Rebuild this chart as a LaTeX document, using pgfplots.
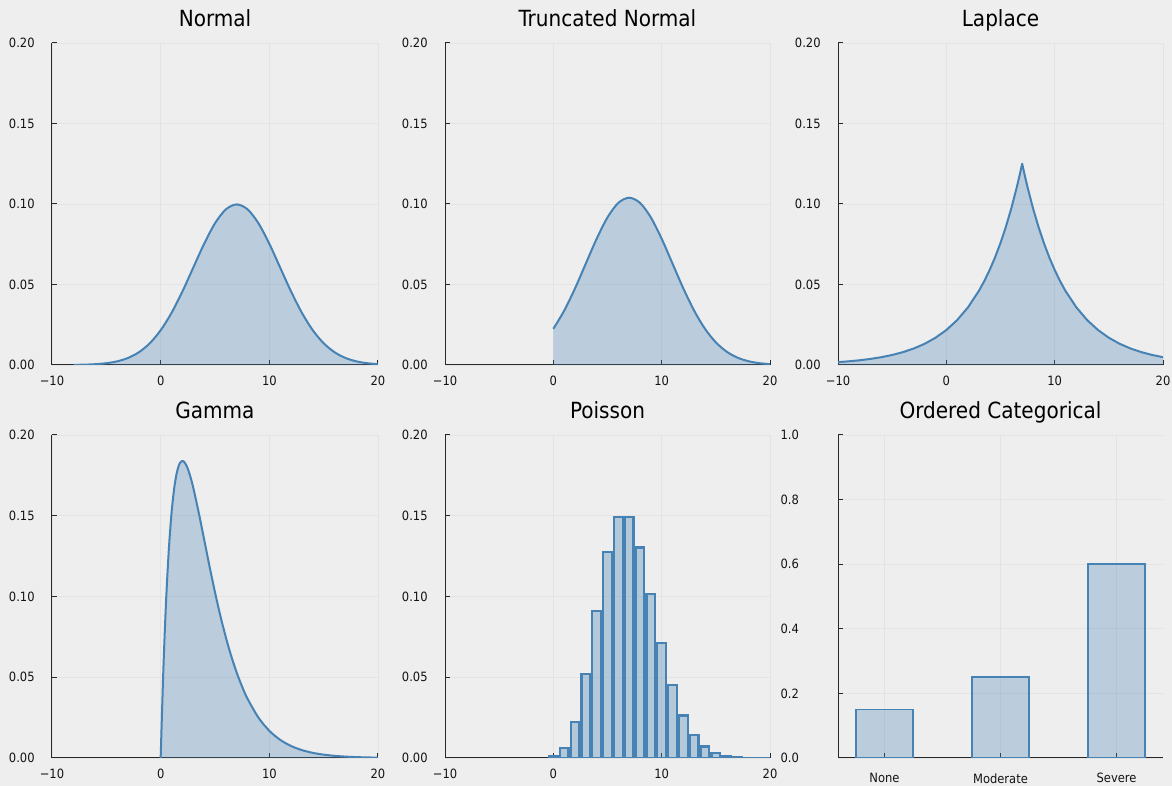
\documentclass[border=0pt]{standalone}
\usepackage{fontspec}
\setmainfont{DejaVu Sans Condensed}
\usepackage{pgfplots}
\pgfplotsset{compat=1.18}
\definecolor{bg}{RGB}{238,238,238}
\definecolor{lc}{RGB}{70,130,180}
\definecolor{axc}{RGB}{40,40,40}
\definecolor{gridc}{RGB}{227,227,227}
\definecolor{labc}{RGB}{20,20,20}
\newcommand{\tickfont}{\fontsize{9.6}{11}\selectfont}
\newcommand{\titlefont}{\fontsize{16.7}{19}\selectfont}
\pgfplotsset{
  base/.style={
    scale only axis, anchor=south west,
    axis lines=left,
    axis line style={-, draw=axc, line width=0.75pt},
    tick align=inside, major tick length=3.5pt,
    tick style={draw=axc, line width=0.75pt},
    grid=major, major grid style={draw=gridc, line width=0.6pt},
    ticklabel style={font=\tickfont, text=labc},
    xticklabel style={yshift=-5pt},
    yticklabel style={xshift=-9.5pt},
    title style={font=\titlefont, text=black, at={(0.5,1)}, anchor=base, yshift=6.5pt},
  },
  dist/.style={
    base,
    xmin=-10, xmax=20, ymin=0, ymax=0.2,
    xtick={-10,0,10,20}, xticklabels={−10,0,10,20},
    ytick={0,0.05,0.1,0.15,0.2}, yticklabels={0.00,0.05,0.10,0.15,0.20},
  },
  curve/.style={draw=lc, line width=1.5pt, line join=round},
  area/.style={draw=none, fill=lc, fill opacity=0.3},
}
\begin{document}
\begin{tikzpicture}
\path[use as bounding box, fill=bg] (0,0) rectangle (879pt,589.5pt);

% Normal
\begin{axis}[dist, at={(39pt,315.75pt)}, width=244.5pt, height=241.5pt, title={Normal}]
\addplot[area, smooth] coordinates {
(-8,0.000088) (-7,0.000218) (-6,0.000507) (-5,0.001108) (-4,0.002273) (-3,0.004382)
(-2,0.007935) (-1,0.013498) (0,0.021569) (1,0.032380) (2,0.045662) (3,0.060493)
(4,0.075284) (5,0.088017) (6,0.096668) (7,0.099736) (8,0.096668) (9,0.088017)
(10,0.075284) (11,0.060493) (12,0.045662) (13,0.032380) (14,0.021569) (15,0.013498)
(16,0.007935) (17,0.004382) (18,0.002273) (19,0.001108) (20,0.000507)} \closedcycle;
\addplot[curve, smooth] coordinates {
(-8,0.000088) (-7,0.000218) (-6,0.000507) (-5,0.001108) (-4,0.002273) (-3,0.004382)
(-2,0.007935) (-1,0.013498) (0,0.021569) (1,0.032380) (2,0.045662) (3,0.060493)
(4,0.075284) (5,0.088017) (6,0.096668) (7,0.099736) (8,0.096668) (9,0.088017)
(10,0.075284) (11,0.060493) (12,0.045662) (13,0.032380) (14,0.021569) (15,0.013498)
(16,0.007935) (17,0.004382) (18,0.002273) (19,0.001108) (20,0.000507)};
\end{axis}

% Truncated Normal
\begin{axis}[dist, at={(333.75pt,315.75pt)}, width=243.75pt, height=241.5pt, title={Truncated Normal}]
\addplot[area, smooth] coordinates {
(0,0.022469) (1,0.033731) (2,0.047567) (3,0.063018) (4,0.078425) (5,0.091690)
(6,0.100702) (7,0.103898) (8,0.100702) (9,0.091690) (10,0.078425) (11,0.063018)
(12,0.047567) (13,0.033731) (14,0.022469) (15,0.014061) (16,0.008266) (17,0.004565)
(18,0.002368) (19,0.001154) (20,0.000528)} \closedcycle;
\addplot[curve, smooth] coordinates {
(0,0.022469) (1,0.033731) (2,0.047567) (3,0.063018) (4,0.078425) (5,0.091690)
(6,0.100702) (7,0.103898) (8,0.100702) (9,0.091690) (10,0.078425) (11,0.063018)
(12,0.047567) (13,0.033731) (14,0.022469) (15,0.014061) (16,0.008266) (17,0.004565)
(18,0.002368) (19,0.001154) (20,0.000528)};
\end{axis}

% Laplace
\begin{axis}[dist, at={(628.5pt,315.75pt)}, width=243.75pt, height=241.5pt, title={Laplace}]
\addplot[area] coordinates {
(-10,0.001783) (-9,0.002290) (-8,0.002940) (-7,0.003775) (-6,0.004847) (-5,0.006223)
(-4,0.007991) (-3,0.010261) (-2,0.013175) (-1,0.016917) (0,0.021722) (1,0.027891)
(2,0.035813) (3,0.045985) (3.5,0.052108) (4,0.059046) (4.5,0.066908) (5,0.075816)
(5.5,0.085911) (6,0.097350) (6.5,0.110312) (6.75,0.117427) (7,0.125)
(7.25,0.117427) (7.5,0.110312) (8,0.097350) (8.5,0.085911) (9,0.075816) (9.5,0.066908)
(10,0.059046) (10.5,0.052108) (11,0.045985) (12,0.035813) (13,0.027891)
(14,0.021722) (15,0.016917) (16,0.013175) (17,0.010261) (18,0.007991) (19,0.006223)
(20,0.004847)} \closedcycle;
\addplot[curve] coordinates {
(-10,0.001783) (-9,0.002290) (-8,0.002940) (-7,0.003775) (-6,0.004847) (-5,0.006223)
(-4,0.007991) (-3,0.010261) (-2,0.013175) (-1,0.016917) (0,0.021722) (1,0.027891)
(2,0.035813) (3,0.045985) (3.5,0.052108) (4,0.059046) (4.5,0.066908) (5,0.075816)
(5.5,0.085911) (6,0.097350) (6.5,0.110312) (6.75,0.117427) (7,0.125)
(7.25,0.117427) (7.5,0.110312) (8,0.097350) (8.5,0.085911) (9,0.075816) (9.5,0.066908)
(10,0.059046) (10.5,0.052108) (11,0.045985) (12,0.035813) (13,0.027891)
(14,0.021722) (15,0.016917) (16,0.013175) (17,0.010261) (18,0.007991) (19,0.006223)
(20,0.004847)};
\end{axis}

% Gamma
\begin{axis}[dist, at={(39pt,21pt)}, width=244.5pt, height=242.25pt, title={Gamma}]
\addplot[area, smooth] coordinates {
(0,0) (0.25,0.055156) (0.5,0.097350) (0.75,0.128867) (1,0.151633) (1.25,0.167269)
(1.5,0.177138) (1.75,0.182377) (2,0.183940) (2.25,0.182617) (2.5,0.179066) (2.75,0.173828)
(3,0.167348) (3.5,0.152052) (4,0.135335)
(4.5,0.118574) (5,0.102606) (5.5,0.087901) (6,0.074681) (6.5,0.063008) (7,0.052845)
(7.5,0.044096) (8,0.036631) (9,0.024995) (10,0.016845) (11,0.011239) (12,0.007436)
(13,0.004886) (14,0.003191) (15,0.002074) (16,0.001342) (17,0.000865) (18,0.000555)
(19,0.000356) (20,0.000227)} \closedcycle;
\addplot[curve, smooth] coordinates {
(0,0) (0.25,0.055156) (0.5,0.097350) (0.75,0.128867) (1,0.151633) (1.25,0.167269)
(1.5,0.177138) (1.75,0.182377) (2,0.183940) (2.25,0.182617) (2.5,0.179066) (2.75,0.173828)
(3,0.167348) (3.5,0.152052) (4,0.135335)
(4.5,0.118574) (5,0.102606) (5.5,0.087901) (6,0.074681) (6.5,0.063008) (7,0.052845)
(7.5,0.044096) (8,0.036631) (9,0.024995) (10,0.016845) (11,0.011239) (12,0.007436)
(13,0.004886) (14,0.003191) (15,0.002074) (16,0.001342) (17,0.000865) (18,0.000555)
(19,0.000356) (20,0.000227)};
\end{axis}

% Poisson
\begin{axis}[dist, at={(333.75pt,21pt)}, width=243.75pt, height=242.25pt, title={Poisson}]
\addplot[ybar, bar width=0.8, draw=lc, line width=1.6pt, fill=lc, fill opacity=0.35] coordinates {
(0,0.000912) (1,0.006383) (2,0.022341) (3,0.052129) (4,0.091226) (5,0.127717)
(6,0.149003) (7,0.149003) (8,0.130377) (9,0.101405) (10,0.070983) (11,0.045171)
(12,0.026350) (13,0.014188) (14,0.007094) (15,0.003311) (16,0.001448) (17,0.000596)
(18,0.000232) (19,0.000085) (20,0.000030)};
\end{axis}

% Ordered Categorical
\begin{axis}[base, at={(628.5pt,21pt)}, width=243.75pt, height=242.25pt, title={Ordered Categorical},
  xmin=0.6, xmax=3.4, ymin=0, ymax=1,
  xtick={1,2,3}, xticklabels={None,Moderate,Severe},
  xticklabel style={yshift=-3pt},
  ytick={0,0.2,0.4,0.6,0.8,1}, yticklabels={0.0,0.2,0.4,0.6,0.8,1.0},
  yticklabel style={xshift=-16.3pt}]
\addplot[ybar, bar width=0.49, draw=lc, line width=1.3pt, fill=lc, fill opacity=0.3] coordinates {
(1,0.15) (2,0.25) (3,0.6)};
\end{axis}
\end{tikzpicture}
\end{document}
